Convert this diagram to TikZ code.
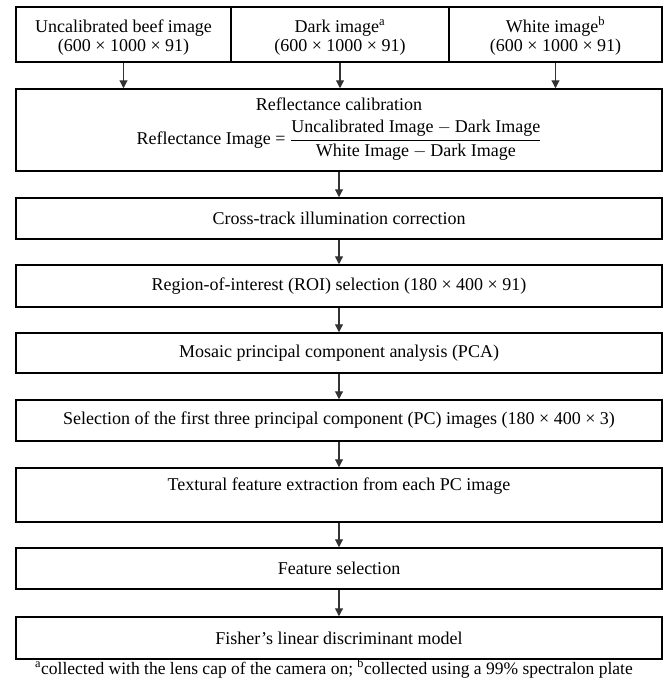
\documentclass[tikz,border=0pt]{standalone}
\usepackage{amsmath}
\usepackage{fontspec}
\setmainfont{Liberation Serif}
\usetikzlibrary{arrows.meta}
\tikzset{
  box/.style={draw=black, line width=1.5pt, rectangle, inner sep=0pt, align=center, font=\fontsize{18}{17.5}\selectfont},
  arr/.style={draw=black!80, line width=1.1pt, -{Triangle[length=8pt,width=8pt]}},
  txt/.style={inner sep=0pt, align=center, font=\fontsize{18}{19}\selectfont}
}
\begin{document}
\begin{tikzpicture}[x=1pt,y=-1pt]
\useasboundingbox (0,0) rectangle (667,683);
% top row
\node[box, minimum width=215pt, minimum height=55pt] (unc) at (123.5,34.5) {};
\node[box, minimum width=218pt, minimum height=55pt] (dark) at (340,34.5) {};
\node[box, minimum width=213pt, minimum height=55pt] (white) at (555.5,34.5) {};
\node[txt, anchor=base] (unct) at (123.5,51) {Uncalibrated beef image\\(600 × 1000 × 91)};
\node[txt, anchor=base] (darkt) at (340,51) {Dark image\textsuperscript{a}\\(600 × 1000 × 91)};
\node[txt, anchor=base] (whitet) at (555.5,51) {White image\textsuperscript{b}\\(600 × 1000 × 91)};
% reflectance
\node[box, minimum width=646pt, minimum height=82pt] (refl) at (339,130) {};
\node[txt] (reflt) at (339,104) {Reflectance calibration};
\node[txt] (refle) at (339,140) {Reflectance Image = $\dfrac{\text{Uncalibrated Image} - \text{Dark Image}}{\text{White Image} - \text{Dark Image}}$};
% main chain
\node[box, minimum width=646pt, minimum height=41pt] (cross) at (339,218.5) {Cross-track illumination correction};
\node[box, minimum width=646pt, minimum height=42pt] (roi) at (339,286) {Region-of-interest (ROI) selection (180 × 400 × 91)};
\node[box, minimum width=646pt, minimum height=40pt] (pca) at (339,353) {Mosaic principal component analysis (PCA)};
\node[box, minimum width=646pt, minimum height=41pt] (sel) at (339,420.5) {Selection of the first three principal component (PC) images (180 × 400 × 3)};
\node[box, minimum width=646pt, minimum height=54pt] (tex) at (339,495) {};
\node[txt] (text) at (339,486) {Textural feature extraction from each PC image};
\node[box, minimum width=646pt, minimum height=41pt] (feat) at (339,568.5) {Feature selection};
\node[box, minimum width=646pt, minimum height=42pt] (fish) at (339,638) {Fisher’s linear discriminant model};
\node[txt, anchor=base, font=\fontsize{17.5}{19}\selectfont] (foot) at (334,674) {\textsuperscript{a}collected with the lens cap of the camera on; \textsuperscript{b}collected using a 99\% spectralon plate};
% arrows
\draw[arr] (unc.south) -- (unc.south |- refl.north);
\draw[arr] (dark.south) -- (dark.south |- refl.north);
\draw[arr] (white.south) -- (white.south |- refl.north);
\draw[arr] (refl) -- (cross);
\draw[arr] (cross) -- (roi);
\draw[arr] (roi) -- (pca);
\draw[arr] (pca) -- (sel);
\draw[arr] (sel) -- (tex);
\draw[arr] (tex) -- (feat);
\draw[arr] (feat) -- (fish);
\end{tikzpicture}
\end{document}
